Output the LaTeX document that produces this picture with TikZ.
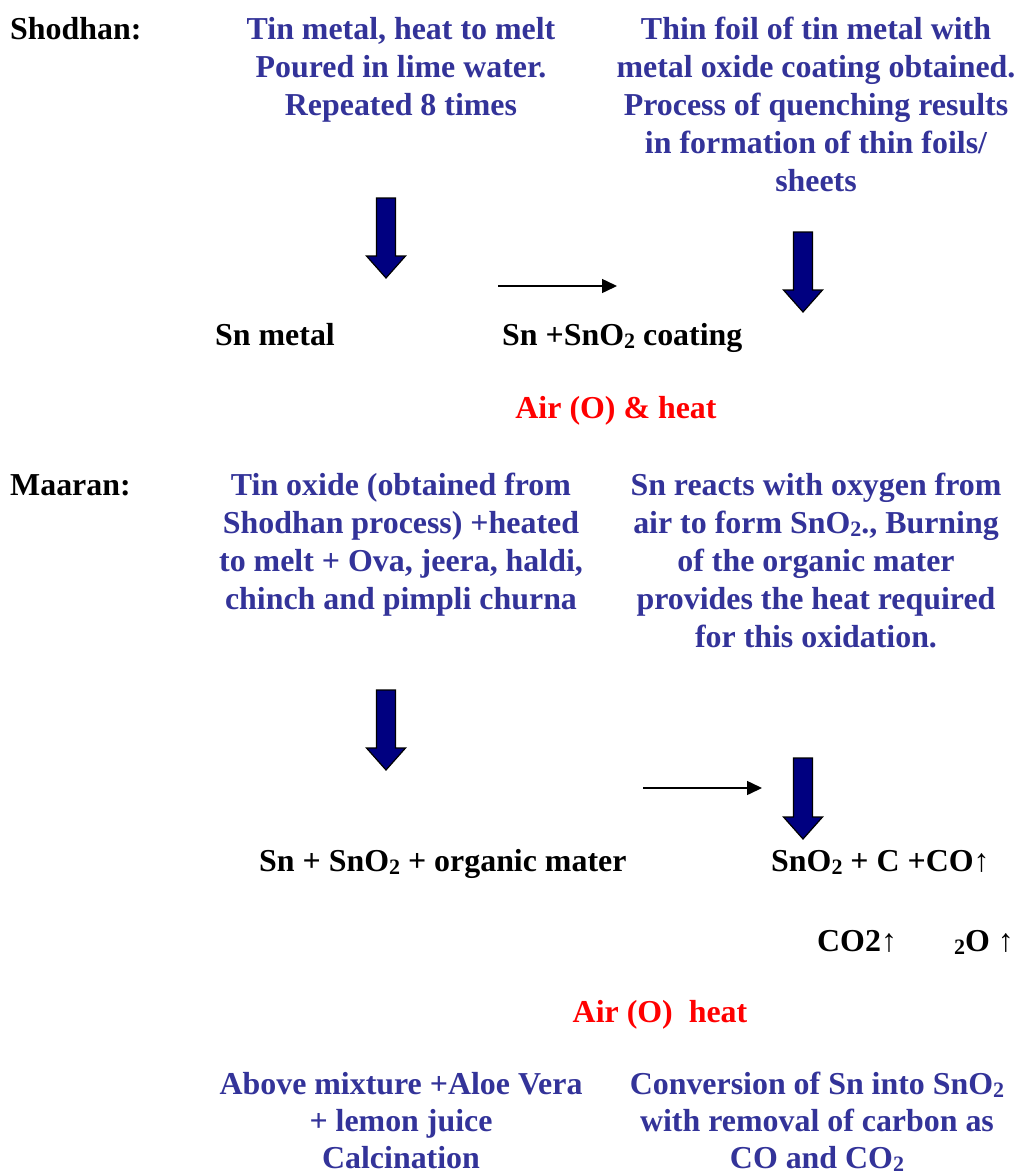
\documentclass[tikz,border=0pt]{standalone}
\usepackage{fontspec}
\setmainfont{Liberation Serif}
\usetikzlibrary{arrows.meta}
\definecolor{txtblue}{RGB}{51,51,153}
\definecolor{arrnavy}{RGB}{0,0,128}
\definecolor{txtred}{RGB}{255,0,0}
\newcommand{\sbs}[1]{\raisebox{-0.1em}{\fontsize{22}{22}\selectfont #1}}
\newcommand{\blockarrowdown}[4]{% x, ytop, yhead, ytip
  \fill[arrnavy,draw=black,line width=1.2pt,line join=miter]
    (#1-9.5,#2) -- (#1+9.5,#2) -- (#1+9.5,#3) -- (#1+19.5,#3) -- (#1,#4)
    -- (#1-19.5,#3) -- (#1-9.5,#3) -- cycle;}
\tikzset{
  txt/.style={inner sep=0pt,font=\fontsize{31.9}{38}\selectfont\bfseries},
  blue/.style={txt,text=txtblue,anchor=base},
  blk/.style={txt,text=black,anchor=base west},
  redt/.style={txt,text=txtred,anchor=base},
  thinarrow/.style={line width=1.5pt,-{Triangle[length=15pt,width=14pt]}}
}
\begin{document}
\begin{tikzpicture}[x=1pt,y=-1pt]
\useasboundingbox[fill=white] (0,0) rectangle (1019,1175);

% ---------- Shodhan ----------
\node[blk] (shodhan) at (10,39) {Shodhan:};
\node[blue] (a1) at (401,39) {Tin metal, heat to melt};
\node[blue] (a2) at (401,77) {Poured in lime water.};
\node[blue] (a3) at (401,115) {Repeated 8 times};
\node[blue] (b1) at (816,39) {Thin foil of tin metal with};
\node[blue] (b2) at (816,77) {metal oxide coating obtained.};
\node[blue] (b3) at (816,115) {Process of quenching results};
\node[blue] (b4) at (816,153) {in formation of thin foils/};
\node[blue] (b5) at (816,191) {sheets};

\blockarrowdown{386}{198}{256}{278}
\blockarrowdown{803}{232}{290}{312}

\coordinate (t1s) at (498,286);
\coordinate (t1e) at (617,286);
\draw[thinarrow] (t1s) -- (t1e);

\node[blk] (snmetal) at (215,345) {Sn metal};
\node[blk] (sncoat) at (502,345) {Sn +SnO\sbs{2} coating};
\node[redt] (air1) at (616,418) {Air (O) \& heat};

% ---------- Maaran ----------
\node[blk] (maaran) at (10,495) {Maaran:};
\node[blue] (c1) at (401,495) {Tin oxide (obtained from};
\node[blue] (c2) at (401,533) {Shodhan process) +heated};
\node[blue] (c3) at (401,571) {to melt + Ova, jeera, haldi,};
\node[blue] (c4) at (401,609) {chinch and pimpli churna};
\node[blue] (d1) at (816,495) {Sn reacts with oxygen from};
\node[blue] (d2) at (816,533) {air to form SnO\sbs{2}., Burning};
\node[blue] (d3) at (816,571) {of the organic mater};
\node[blue] (d4) at (816,609) {provides the heat required};
\node[blue] (d5) at (816,647) {for this oxidation.};

\blockarrowdown{386}{690}{748}{770}
\blockarrowdown{803}{758}{817}{839}

\coordinate (t2s) at (643,788);
\coordinate (t2e) at (762,788);
\draw[thinarrow] (t2s) -- (t2e);

\node[blk] (mix) at (259,871) {Sn + SnO\sbs{2} + organic mater};
\node[blk] (prod) at (771,871) {SnO\sbs{2} + C +CO↑};
\node[blk] (co2) at (817,951) {CO2↑};
\node[blk] (h2o) at (954,951) {\sbs{2}O ↑};
\node[redt] (air2) at (660,1022) {Air (O)\ \ heat};

\node[blue] (e1) at (401,1094) {Above mixture +Aloe Vera};
\node[blue] (e2) at (401,1131) {+ lemon juice};
\node[blue] (e3) at (401,1168) {Calcination};
\node[blue] (f1) at (817,1094) {Conversion of Sn into SnO\sbs{2}};
\node[blue] (f2) at (817,1131) {with removal of carbon as};
\node[blue] (f3) at (817,1168) {CO and CO\sbs{2}};
\end{tikzpicture}
\end{document}
